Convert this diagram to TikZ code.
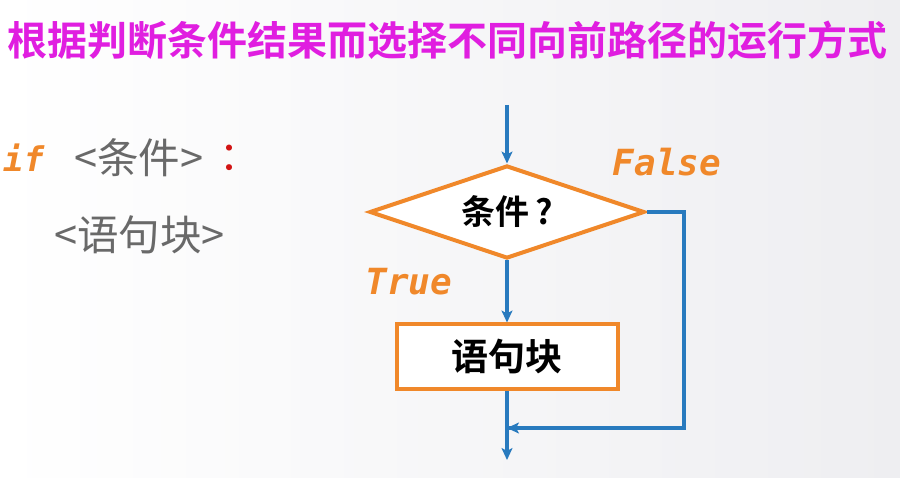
\documentclass[tikz,border=0pt]{standalone}
\usepackage{fontspec}
\setmainfont{Noto Sans CJK SC}
\newfontfamily\cjkb{Noto Sans CJK SC Bold}
\newfontfamily\cjkr{Noto Sans CJK SC}
\newfontfamily\monoit{DejaVu Sans Mono}[ItalicFont={* Oblique},BoldItalicFont={* Bold Oblique}]
\usetikzlibrary{shapes.geometric,arrows.meta}
\definecolor{bgr}{RGB}{238,238,241}
\definecolor{ttl}{RGB}{224,30,224}
\definecolor{flowblue}{RGB}{40,122,190}
\definecolor{flowor}{RGB}{240,136,42}
\definecolor{txtgray}{RGB}{105,105,105}
\definecolor{colred}{RGB}{210,20,20}
\tikzset{
  flow/.style={draw=flowblue,line width=4pt},
  arr/.style={flow,-{Stealth[length=12pt,width=11pt,inset=3pt]}},
  lbl/.style={font=\monoit\bfseries\itshape\fontsize{36}{40}\selectfont,text=flowor,inner sep=0pt},
  codetxt/.style={font=\cjkr\fontsize{41.5}{44}\selectfont,text=txtgray,inner sep=0pt,anchor=west},
}
\begin{document}
\begin{tikzpicture}[x=1pt,y=-1pt]
\shade[left color=white,right color=bgr] (0,0) rectangle (900,478);
\useasboundingbox (0,0) rectangle (900,478);
\node[anchor=west,inner sep=0pt,text=ttl,font=\cjkb\fontsize{40}{44}\selectfont] (title) at (7,40) {根据判断条件结果而选择不同向前路径的运行方式};
% code
\node[inner sep=0pt,anchor=west,font=\monoit\bfseries\itshape\fontsize{34}{36}\selectfont,text=flowor] (kwif) at (3,158) {if};
\node[codetxt] (cond) at (74,158) {<条件>};
\node[inner sep=0pt,anchor=west,font=\cjkr\fontsize{40}{44}\selectfont,text=colred] (colon) at (219,158) {：};
\node[codetxt] (blk) at (54,235) {<语句块>};
% flowchart
\node[diamond,draw=flowor,line width=4pt,fill=white,aspect=2.96,minimum width=275pt,minimum height=93pt,inner sep=0pt,font=\cjkb\fontsize{34}{36}\selectfont] (d) at (507,212) {条件\,?};
\node[draw=flowor,line width=4pt,fill=white,minimum width=221pt,minimum height=65pt,inner sep=0pt,font=\cjkb\fontsize{37}{40}\selectfont] (b) at (507,357) {语句块};
\coordinate (start) at (507,105);
\coordinate (end) at (507,460);
\coordinate (cr) at (684,212);
\coordinate (crb) at (684,428);
\coordinate (m) at (507,428);
\node[lbl] (f) at (667,162) {False};
\node[lbl] (t) at (409,282) {True};
\draw[arr] (start) -- (d.north);
\draw[arr] (d.south) -- (b.north);
\draw[arr] (b.south) -- (end);
\draw[flow,line join=miter] (d.east) -- (cr) -- (crb) -- (m);
\draw[arr] (crb) -- (m);
\end{tikzpicture}
\end{document}
